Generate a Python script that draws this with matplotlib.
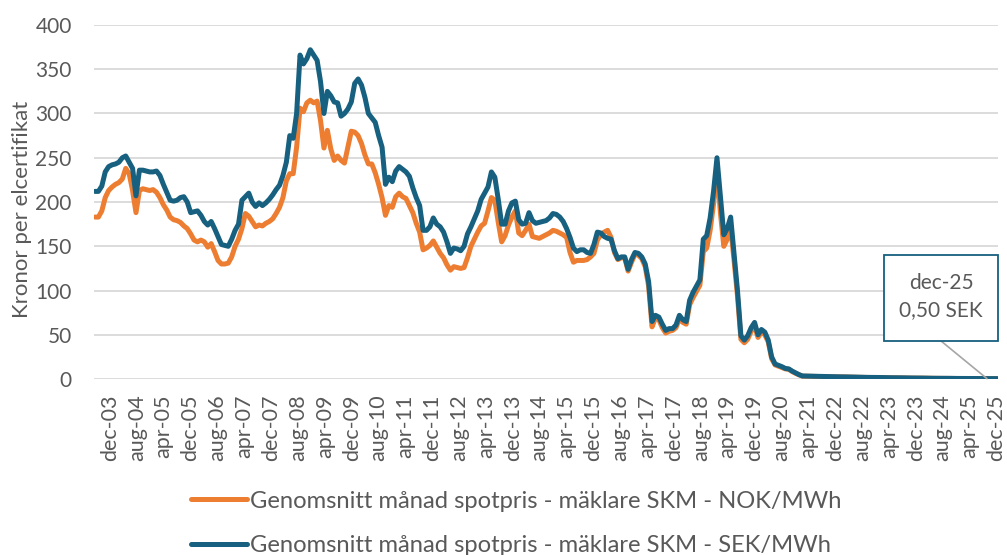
import numpy as np
import matplotlib
matplotlib.use("Agg")
import matplotlib.pyplot as plt
from matplotlib.patches import Rectangle

plt.rcParams['font.family'] = ['Lato', 'DejaVu Sans']

# Genomsnitt månad spotpris, SEK/MWh (dec-03 .. dec-25)
sek_2003 = [212]
sek_2004 = [212, 218, 234, 240, 242, 243, 245, 250, 252, 245, 238, 207]
sek_2005 = [236, 236, 235, 234, 234, 235, 230, 220, 211, 202, 201, 202]
sek_2006 = [205, 206, 200, 188, 189, 190, 185, 178, 174, 178, 170, 161]
sek_2007 = [152, 151, 150, 158, 168, 175, 202, 206, 210, 200, 195, 199]
sek_2008 = [196, 199, 203, 208, 214, 219, 230, 245, 275, 272, 300, 366]
sek_2009 = [356, 362, 372, 366, 360, 336, 300, 325, 320, 313, 312, 297]
sek_2010 = [300, 305, 313, 334, 339, 332, 318, 300, 295, 290, 275, 262]
sek_2011 = [220, 228, 223, 235, 240, 237, 234, 229, 216, 205, 196, 168]
sek_2012 = [168, 172, 182, 175, 172, 166, 155, 142, 148, 147, 145, 150]
sek_2013 = [164, 172, 181, 190, 203, 210, 217, 234, 228, 203, 175, 175]
sek_2014 = [190, 199, 201, 180, 175, 176, 188, 179, 176, 177, 178, 179]
sek_2015 = [182, 187, 186, 183, 178, 170, 160, 148, 144, 146, 146, 143]
sek_2016 = [142, 152, 166, 165, 161, 159, 158, 145, 136, 138, 138, 124]
sek_2017 = [135, 143, 142, 138, 130, 110, 65, 72, 70, 62, 55, 57]
sek_2018 = [57, 61, 72, 67, 65, 89, 98, 105, 112, 158, 162, 182]
sek_2019 = [212, 250, 206, 163, 170, 183, 142, 100, 49, 44, 49, 58]
sek_2020 = [64, 50, 56, 53, 44, 25, 17, 15.5, 14, 12, 11.5, 9]
sek_2021 = [7, 5, 3.5, 3.4, 3.3, 3.2, 3.1, 3.0, 2.9, 2.8, 2.8, 2.7]
sek_2022 = [2.6, 2.5, 2.5, 2.4, 2.3, 2.2, 2.1, 2.1, 2.0, 1.9, 1.9, 1.8]
sek_2023 = [1.8, 1.7, 1.7, 1.6, 1.5, 1.5, 1.4, 1.4, 1.3, 1.3, 1.2, 1.2]
sek_2024 = [1.1, 1.1, 1.0, 1.0, 0.9, 0.9, 0.9, 0.8, 0.8, 0.8, 0.7, 0.7]
sek_2025 = [0.7, 0.7, 0.6, 0.6, 0.6, 0.6, 0.6, 0.5, 0.5, 0.5, 0.5, 0.5]

# Genomsnitt månad spotpris, NOK/MWh
nok_2003 = [183]
nok_2004 = [183, 190, 205, 213, 217, 220, 222, 226, 238, 232, 213, 188]
nok_2005 = [213, 215, 214, 213, 214, 211, 205, 197, 191, 183, 180, 179]
nok_2006 = [177, 173, 170, 164, 157, 155, 157, 155, 149, 153, 144, 134]
nok_2007 = [130, 130, 131, 138, 150, 158, 170, 187, 184, 178, 172, 174]
nok_2008 = [173, 176, 178, 181, 187, 194, 205, 224, 232, 232, 262, 306]
nok_2009 = [302, 312, 315, 312, 314, 292, 261, 281, 260, 247, 252, 247]
nok_2010 = [244, 262, 280, 279, 275, 266, 253, 243, 243, 233, 220, 205]
nok_2011 = [185, 196, 194, 206, 210, 206, 204, 196, 188, 176, 166, 146]
nok_2012 = [148, 151, 156, 149, 142, 137, 129, 123, 127, 126, 125, 126]
nok_2013 = [137, 150, 158, 166, 173, 176, 190, 205, 202, 177, 155, 162]
nok_2014 = [174, 183, 190, 165, 162, 168, 175, 161, 160, 159, 161, 163]
nok_2015 = [165, 168, 167, 165, 163, 160, 143, 132, 134, 134, 134, 135]
nok_2016 = [138, 142, 157, 163, 166, 168, 160, 143, 135, 137, 137, 122]
nok_2017 = [132, 141, 140, 136, 127, 105, 59, 69, 67, 58, 52, 54]
nok_2018 = [55, 58, 68, 64, 62, 84, 92, 99, 106, 144, 148, 168]
nok_2019 = [198, 238, 188, 150, 158, 172, 134, 94, 45, 41, 45, 54]
nok_2020 = [60, 47, 53, 50, 42, 23, 16, 14.5, 13, 11.5, 11, 8.5]
nok_2021 = [6.5, 4.8, 3.3, 3.2, 3.1, 3.0, 2.9, 2.8, 2.7, 2.6, 2.6, 2.5]
nok_2022 = [2.5, 2.4, 2.4, 2.3, 2.2, 2.1, 2.0, 2.0, 1.9, 1.8, 1.8, 1.7]
nok_2023 = [1.7, 1.6, 1.6, 1.5, 1.4, 1.4, 1.3, 1.3, 1.2, 1.2, 1.1, 1.1]
nok_2024 = [1.0, 1.0, 1.0, 0.9, 0.9, 0.8, 0.8, 0.8, 0.7, 0.7, 0.7, 0.6]
nok_2025 = [0.6, 0.6, 0.6, 0.6, 0.5, 0.5, 0.5, 0.5, 0.5, 0.5, 0.5, 0.5]

tick_labels = ['dec-03', 'aug-04', 'apr-05', 'dec-05', 'aug-06', 'apr-07', 'dec-07',
               'aug-08', 'apr-09', 'dec-09', 'aug-10', 'apr-11', 'dec-11', 'aug-12',
               'apr-13', 'dec-13', 'aug-14', 'apr-15', 'dec-15', 'aug-16', 'apr-17',
               'dec-17', 'aug-18', 'apr-19', 'dec-19', 'aug-20', 'apr-21', 'dec-22',
               'aug-22', 'apr-23', 'dec-23', 'aug-24', 'apr-25', 'dec-25']

name_nok = 'Genomsnitt månad spotpris - mäklare SKM - NOK/MWh'
name_sek = 'Genomsnitt månad spotpris - mäklare SKM - SEK/MWh'
last_label = 'dec-25\n0,50 SEK'

sek = np.array(sek_2003 + sek_2004 + sek_2005 + sek_2006 + sek_2007 + sek_2008 + sek_2009
               + sek_2010 + sek_2011 + sek_2012 + sek_2013 + sek_2014 + sek_2015 + sek_2016
               + sek_2017 + sek_2018 + sek_2019 + sek_2020 + sek_2021 + sek_2022 + sek_2023
               + sek_2024 + sek_2025)
nok = np.array(nok_2003 + nok_2004 + nok_2005 + nok_2006 + nok_2007 + nok_2008 + nok_2009
               + nok_2010 + nok_2011 + nok_2012 + nok_2013 + nok_2014 + nok_2015 + nok_2016
               + nok_2017 + nok_2018 + nok_2019 + nok_2020 + nok_2021 + nok_2022 + nok_2023
               + nok_2024 + nok_2025)
x = np.arange(len(sek))

orange = '#ED7D31'
blue = '#17607F'
grey = '#595959'

fig = plt.figure(figsize=(10.07, 5.55), dpi=100)
ax = fig.add_axes([0.0933, 0.317, 0.898, 0.638])

ax.plot(x, nok, color=orange, lw=3.6, solid_capstyle='round', solid_joinstyle='round',
        label=name_nok)
ax.plot(x, sek, color=blue, lw=3.6, solid_capstyle='round', solid_joinstyle='round',
        label=name_sek)

ax.set_xlim(-0.3, len(x) - 0.7)
ax.set_ylim(0, 400)
ax.set_yticks(np.arange(0, 401, 50))
ax.grid(axis='y', color='#d9d9d9', lw=1.3)
ax.set_axisbelow(True)
for s in ax.spines.values():
    s.set_visible(False)

# label positions follow the reference's even spread over the axis
ax.set_xticks(np.linspace(4.4, len(x) - 1.3, len(tick_labels)))
ax.set_xticklabels(tick_labels, rotation=90, va='top', ha='center')
ax.tick_params(axis='x', length=0, pad=11, labelsize=15.5, labelcolor=grey)
ax.tick_params(axis='y', length=0, pad=16, labelsize=15, labelcolor=grey)
ax.set_ylabel('Kronor per elcertifikat', fontsize=16, color=grey)
ax.yaxis.set_label_coords(-0.069, 0.48)

# data label box for the last month
ax.add_patch(Rectangle((0.874, 0.107), 0.126, 0.243, transform=ax.transAxes,
                       fc='white', ec=blue, lw=1.3, clip_on=False, zorder=5))
ax.text(0.937, 0.232, last_label, transform=ax.transAxes, ha='center', va='center',
        fontsize=15, color=grey, linespacing=1.45, zorder=6)
ax.annotate('', xy=(x[-1] - 3, sek[-1]), xytext=(0.937, 0.107),
            textcoords='axes fraction',
            arrowprops=dict(arrowstyle='-', color='#a6a6a6', lw=1.2,
                            shrinkA=0, shrinkB=0))

fig.legend(loc='center', bbox_to_anchor=(0.5125, 0.057), ncol=1, frameon=False,
           fontsize=17.1, handlelength=2.35, handletextpad=0.12, labelspacing=0.98,
           labelcolor=grey)

fig.savefig('out.png', dpi=100)
